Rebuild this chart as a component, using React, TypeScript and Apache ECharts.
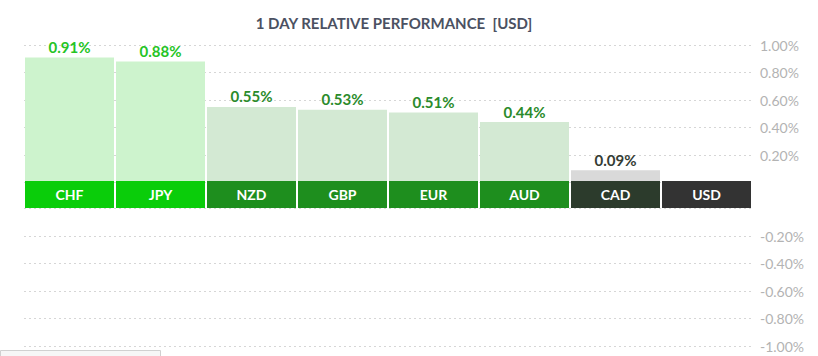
import React, { useEffect, useRef } from "react";
import * as echarts from "echarts";

const categories = ["CHF", "JPY", "NZD", "GBP", "EUR", "AUD", "CAD", "USD"];
const performance = [0.91, 0.88, 0.55, 0.53, 0.51, 0.44, 0.09, 0];
const barColors = ["#cdf3cd", "#cdf3cd", "#d3e9d3", "#d3e9d3", "#d3e9d3", "#d3e9d3", "#d9d9d9", "#d9d9d9"];
const labelColors = ["#25c425", "#25c425", "#2b8b2b", "#2b8b2b", "#2b8b2b", "#2b8b2b", "#343c34", "#333333"];
const bandColors = ["#0acd0a", "#0acd0a", "#1e8e1e", "#1e8e1e", "#1e8e1e", "#1e8e1e", "#2c3b2c", "#333333"];
const posTicks = [0.2, 0.4, 0.6, 0.8, 1.0];
const negTicks = [-1.0, -0.8, -0.6, -0.4, -0.2];

const FONT = "Lato, 'Noto Sans', sans-serif";

export default function App() {
  const ref = useRef<HTMLDivElement>(null);
  useEffect(() => {
    if (!ref.current) return;
    const chart = echarts.init(ref.current, undefined, { renderer: "svg" });
    const gridLeft = 24;
    const gridRight = 66;
    const pctFmt = (v: number) => (Math.abs(v) < 1e-9 ? "" : v.toFixed(2) + "%");
    const splitLine = { show: true, lineStyle: { color: "#d6d6d6", type: [2, 3] as any, width: 1 } };
    const axisLabel = {
      color: "#b3b3b3",
      fontFamily: FONT,
      fontSize: 14,
      margin: 8,
      formatter: pctFmt,
    };
    chart.setOption({
      animation: false,
      title: {
        text: "1 DAY RELATIVE PERFORMANCE  [USD]",
        left: 389,
        textAlign: "center",
        top: 10,
        textStyle: { fontFamily: FONT, fontSize: 15, fontWeight: "bold", color: "#4b5162" },
      },
      grid: [
        { left: gridLeft, right: gridRight, top: 45, height: 137.5 },
        { left: gridLeft, right: gridRight, top: 208.5, height: 137.5 },
        { left: gridLeft, right: gridRight, top: 181, height: 27 },
      ],
      xAxis: [0, 1, 2].map((i) => ({
        type: "category",
        data: categories,
        gridIndex: i,
        show: false,
      })),
      yAxis: [
        {
          type: "value",
          gridIndex: 0,
          position: "right",
          min: 0,
          max: 1,
          interval: 0.2,
          axisLine: { show: false },
          axisTick: { show: false },
          axisLabel,
          splitLine,
        },
        {
          type: "value",
          gridIndex: 1,
          position: "right",
          min: -1,
          max: 0,
          interval: 0.2,
          axisLine: { show: false },
          axisTick: { show: false },
          axisLabel,
          splitLine,
        },
        { type: "value", gridIndex: 2, min: 0, max: 1, show: false },
      ],
      series: [
        {
          type: "bar",
          xAxisIndex: 0,
          yAxisIndex: 0,
          barWidth: 89,
          data: performance.map((v, i) => ({
            value: v,
            itemStyle: { color: barColors[i] },
            label: {
              show: v > 0,
              color: labelColors[i],
            },
          })),
          label: {
            position: "top",
            distance: 3,
            fontFamily: FONT,
            fontSize: 15,
            fontWeight: "bold",
            formatter: (p: any) => p.value.toFixed(2) + "%",
          },
        },
        {
          type: "bar",
          xAxisIndex: 2,
          yAxisIndex: 2,
          barWidth: 89,
          data: categories.map((c, i) => ({ value: 1, itemStyle: { color: bandColors[i] } })),
          label: {
            show: true,
            position: "inside",
            color: "#ffffff",
            fontFamily: FONT,
            fontSize: 14,
            fontWeight: "bold",
            formatter: (p: any) => p.name,
          },
        },
      ],
      graphic: [
        {
          type: "rect",
          shape: { x: 0.5, y: 350.5, width: 160, height: 10 },
          style: { fill: "#f6f6f6", stroke: "#d0d0d0", lineWidth: 1 },
        },
      ],
    });
    return () => chart.dispose();
  }, []);
  return (
    <div
      ref={ref}
      style={{ position: "fixed", left: 0, top: 0, width: 818, height: 356, background: "#ffffff" }}
    />
  );
}
